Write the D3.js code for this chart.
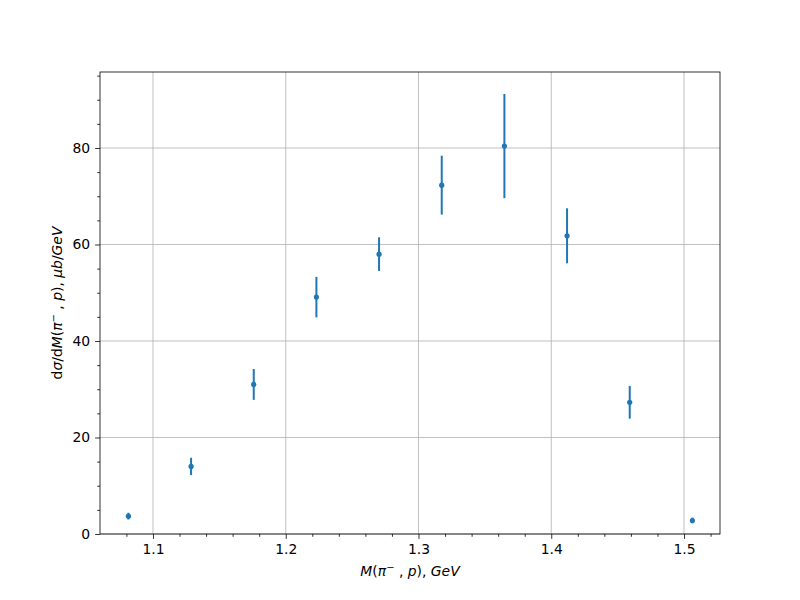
<!DOCTYPE html>
<html>
<head>
<meta charset="utf-8">
<script src="https://d3js.org/d3.v7.min.js"></script>
<style>
body { margin: 0; background: #fff; }
svg { font-family: "DejaVu Sans", sans-serif; }
</style>
</head>
<body>
<svg id="chart" width="800" height="600"></svg>
<script>
const massBins = [1.0815, 1.1287, 1.1759, 1.2231, 1.2703, 1.3175, 1.3647, 1.4119, 1.4591, 1.5063];
const crossSection = [3.7, 14.0, 31.0, 49.1, 58.0, 72.3, 80.4, 61.8, 27.3, 2.8];
const crossSectionErr = [0.7, 1.8, 3.2, 4.2, 3.5, 6.1, 10.8, 5.7, 3.4, 0.6];
const xTickValues = [1.1, 1.2, 1.3, 1.4, 1.5];
const yTickValues = [0, 20, 40, 60, 80];

const svg = d3.select("#chart");
const margin = {left: 100, right: 80, top: 72, bottom: 66};
const W = 800, H = 600;
const x = d3.scaleLinear().domain([1.0601, 1.5271]).range([margin.left, W - margin.right]);
const y = d3.scaleLinear().domain([0, 95.75]).range([H - margin.bottom, margin.top]);

svg.append("rect").attr("width", W).attr("height", H).attr("fill", "#fff");

// grid
const g = svg.append("g");
g.selectAll(".gx").data(xTickValues).join("line")
  .attr("x1", d => x(d)).attr("x2", d => x(d))
  .attr("y1", y.range()[0]).attr("y2", y.range()[1])
  .attr("stroke", "#b0b0b0").attr("stroke-width", 0.8);
g.selectAll(".gy").data(yTickValues).join("line")
  .attr("y1", d => y(d)).attr("y2", d => y(d))
  .attr("x1", x.range()[0]).attr("x2", x.range()[1])
  .attr("stroke", "#b0b0b0").attr("stroke-width", 0.8);

// minor ticks
const xMinor = d3.range(1.06, 1.53, 0.02).filter(v => !xTickValues.some(t => Math.abs(t - v) < 1e-6) && v >= 1.0601 && v <= 1.5271);
const yMinor = d3.range(0, 96, 5).filter(v => v % 20 !== 0);

const xAxis = svg.append("g").attr("transform", `translate(0,${y(0)})`)
  .call(d3.axisBottom(x).tickValues(xTickValues).tickFormat(d3.format(".1f")).tickSizeInner(4.9).tickSizeOuter(0).tickPadding(4.9));
const xAxisMinor = svg.append("g").attr("transform", `translate(0,${y(0)})`)
  .call(d3.axisBottom(x).tickValues(xMinor).tickFormat("").tickSizeInner(2.8).tickSizeOuter(0));
const yAxis = svg.append("g").attr("transform", `translate(${x.range()[0]},0)`)
  .call(d3.axisLeft(y).tickValues(yTickValues).tickFormat(d3.format("d")).tickSizeInner(4.9).tickSizeOuter(0).tickPadding(4.9));
const yAxisMinor = svg.append("g").attr("transform", `translate(${x.range()[0]},0)`)
  .call(d3.axisLeft(y).tickValues(yMinor).tickFormat("").tickSizeInner(2.8).tickSizeOuter(0));

[xAxis, xAxisMinor, yAxis, yAxisMinor].forEach(a => {
  a.select(".domain").remove();
  a.selectAll("line").attr("stroke", "#000").attr("stroke-width", 0.8);
  a.selectAll("text").attr("font-size", "13.9px").attr("fill", "#000").attr("font-family", "DejaVu Sans");
});

// frame
svg.append("rect")
  .attr("x", x.range()[0]).attr("y", y.range()[1])
  .attr("width", x.range()[1] - x.range()[0]).attr("height", y.range()[0] - y.range()[1])
  .attr("fill", "none").attr("stroke", "#000").attr("stroke-width", 0.8);

// error bars
const data = massBins.map((m, i) => ({m, v: crossSection[i], e: crossSectionErr[i]}));
const color = "#1f77b4";
svg.append("g").selectAll("line").data(data).join("line")
  .attr("x1", d => x(d.m)).attr("x2", d => x(d.m))
  .attr("y1", d => y(d.v - d.e)).attr("y2", d => y(d.v + d.e))
  .attr("stroke", color).attr("stroke-width", 2);
svg.append("g").selectAll("circle").data(data).join("circle")
  .attr("cx", d => x(d.m)).attr("cy", d => y(d.v))
  .attr("r", 2.6).attr("fill", color);

// axis labels
const xl = svg.append("text")
  .attr("x", (x.range()[0] + x.range()[1]) / 2).attr("y", 576)
  .attr("text-anchor", "middle").attr("font-size", "13.9px").attr("fill", "#000");
xl.append("tspan").attr("font-style", "italic").text("M");
xl.append("tspan").text("(");
xl.append("tspan").attr("font-style", "italic").text("π");
xl.append("tspan").attr("font-size", "10px").attr("dy", -5).text("−");
xl.append("tspan").attr("dy", 5).text(" , ");
xl.append("tspan").attr("font-style", "italic").text("p");
xl.append("tspan").text("), ");
xl.append("tspan").attr("font-style", "italic").text("GeV");

const yl = svg.append("text")
  .attr("transform", `translate(62,${(y.range()[0] + y.range()[1]) / 2}) rotate(-90)`)
  .attr("text-anchor", "middle").attr("font-size", "13.9px").attr("fill", "#000");
yl.append("tspan").text("d");
yl.append("tspan").attr("font-style", "italic").text("σ");
yl.append("tspan").text("/d");
yl.append("tspan").attr("font-style", "italic").text("M");
yl.append("tspan").text("(");
yl.append("tspan").attr("font-style", "italic").text("π");
yl.append("tspan").attr("font-size", "10px").attr("dy", -5).text("−");
yl.append("tspan").attr("dy", 5).text(" , ");
yl.append("tspan").attr("font-style", "italic").text("p");
yl.append("tspan").text("), ");
yl.append("tspan").attr("font-style", "italic").text("μb");
yl.append("tspan").text("/");
yl.append("tspan").attr("font-style", "italic").text("GeV");
</script>
</body>
</html>
